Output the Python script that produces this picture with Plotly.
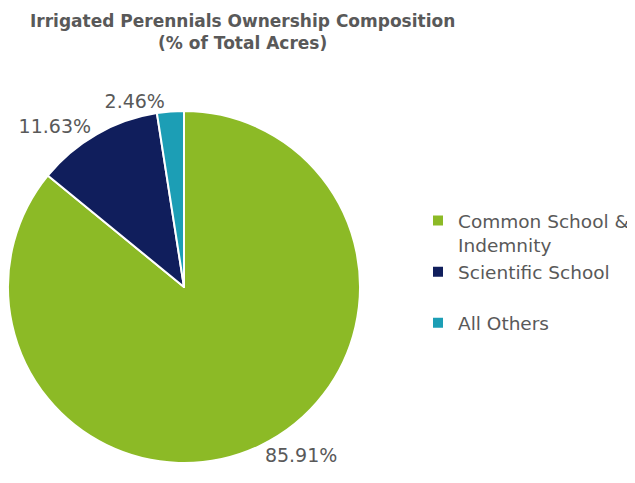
import plotly.graph_objects as go

labels = ["Common School &<br>Indemnity", "Scientific School<br> ", "All Others"]
values = [85.91, 11.63, 2.46]
colors = ["#8CBA26", "#101E5C", "#1C9EB5"]
title_text = "<b>Irrigated Perennials Ownership Composition<br>(% of Total Acres)</b>"

# page body has an 8px margin; figure sized to fill the remaining window
W, H = 627, 475
cx, cy, r = 176, 279, 176

fig = go.Figure(go.Pie(
    labels=labels,
    values=values,
    sort=False,
    direction="clockwise",
    rotation=0,
    marker=dict(colors=colors, line=dict(color="white", width=2)),
    texttemplate="%{percent:.2%}",
    textposition="outside",
    textfont=dict(family="DejaVu Sans", size=19, color="#595959"),
    domain=dict(x=[max(0, (cx - r) / W), (cx + r) / W],
                y=[1 - (cy + r) / H, 1 - (cy - r) / H]),
    automargin=False,
    hoverinfo="label+percent",
))

fig.update_layout(
    width=W, height=H,
    margin=dict(l=0, r=0, t=0, b=0, autoexpand=False),
    paper_bgcolor="white",
    plot_bgcolor="white",
    annotations=[dict(
        text=title_text,
        xref="paper", yref="paper",
        x=234 / W, xanchor="center",
        y=1 - 1 / H, yanchor="top",
        showarrow=False,
        font=dict(family="DejaVu Sans", size=17, color="#595959"),
    )],
    legend=dict(
        x=410 / W, xanchor="left",
        y=1 - 194 / H, yanchor="top",
        font=dict(family="DejaVu Sans", size=18.5, color="#595959"),
        valign="top",
        itemwidth=30,
    ),
    showlegend=True,
)

fig.write_html("out.html")
